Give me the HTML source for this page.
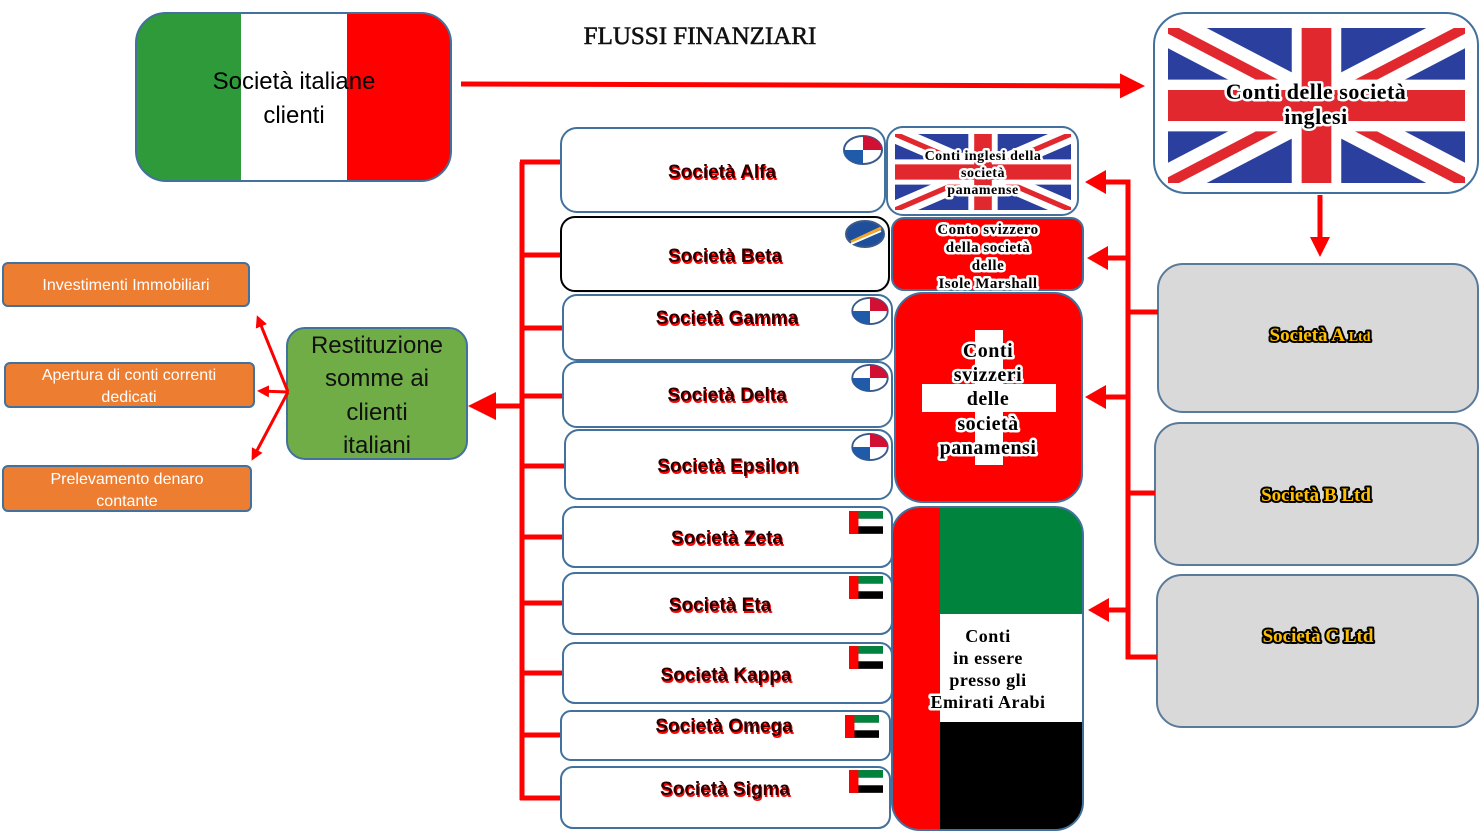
<!DOCTYPE html>
<html><head><meta charset="utf-8"><style>
html,body{margin:0;padding:0;background:#fff;}
svg{display:block;}
.co{font-family:"Liberation Sans",sans-serif;font-weight:bold;font-size:19px;text-anchor:middle;}
.blk{font-family:"Liberation Serif",serif;font-weight:bold;text-anchor:middle;fill:#000;stroke:#fff;stroke-width:5px;stroke-linejoin:round;paint-order:stroke;letter-spacing:0.5px;}
.yl{font-family:"Liberation Serif",serif;font-weight:bold;font-size:19px;text-anchor:middle;fill:#ffc000;stroke:#000;stroke-width:4px;stroke-linejoin:round;paint-order:stroke;}
.or{font-family:"Liberation Sans",sans-serif;font-size:16px;fill:#fff;text-anchor:middle;}
</style></head><body>
<svg width="1480" height="834" viewBox="0 0 1480 834" xmlns="http://www.w3.org/2000/svg">
<defs>
<marker id="ah" markerWidth="5" markerHeight="5" refX="4" refY="2.5" orient="auto" markerUnits="strokeWidth"><path d="M0,0 L5,2.5 L0,5 z" fill="#f00"/></marker>
<marker id="ah2" markerWidth="4" markerHeight="4" refX="3" refY="2" orient="auto" markerUnits="strokeWidth"><path d="M0,0 L4,2 L0,4 z" fill="#f00"/></marker>
<symbol id="uk" viewBox="0 0 60 30" preserveAspectRatio="none">
<rect width="60" height="30" fill="#2b3f9e"/>
<path d="M0,0 L60,30 M60,0 L0,30" stroke="#fff" stroke-width="7"/>
<path d="M0,0 L60,30 M60,0 L0,30" stroke="#e0282e" stroke-width="2"/>
<path d="M30,0 V30 M0,15 H60" stroke="#fff" stroke-width="10"/>
<path d="M30,0 V30 M0,15 H60" stroke="#e0282e" stroke-width="6"/>
</symbol>
<symbol id="pa" viewBox="0 0 40 30">
<ellipse cx="20" cy="15" rx="19" ry="14" fill="#fff" stroke="#3a5a8a" stroke-width="2"/>
<path d="M20,15 H39 A19,14 0 0 0 20,1 Z" fill="#d21034"/>
<path d="M20,15 H1 A19,14 0 0 0 20,29 Z" fill="#1f5ba8"/>
</symbol>
<symbol id="ae" viewBox="0 0 36 24">
<rect width="36" height="24" fill="#000"/><rect width="36" height="8" fill="#00843d"/><rect y="8" width="36" height="8" fill="#fff"/><rect width="10" height="24" fill="#f00"/>
</symbol>
<clipPath id="c1"><rect x="136" y="13" width="315" height="168" rx="30"/></clipPath>
<clipPath id="c2"><rect x="892" y="507" width="191" height="323" rx="28"/></clipPath>
</defs>

<text x="700" y="44" font-family="Liberation Serif,serif" font-size="25" text-anchor="middle" fill="#111" stroke="#111" stroke-width="0.6">FLUSSI FINANZIARI</text>

<g clip-path="url(#c1)">
<rect x="136" y="13" width="105" height="168" fill="#2e9a3a"/>
<rect x="241" y="13" width="106" height="168" fill="#fff"/>
<rect x="347" y="13" width="104" height="168" fill="#f00"/>
</g>
<rect x="136" y="13" width="315" height="168" rx="30" fill="none" stroke="#41719c" stroke-width="2"/>
<text x="294" y="89" font-family="Liberation Sans,sans-serif" font-size="24" text-anchor="middle">Società italiane</text>
<text x="294" y="123" font-family="Liberation Sans,sans-serif" font-size="24" text-anchor="middle">clienti</text>

<line x1="461" y1="84" x2="1140" y2="86" stroke="#f00" stroke-width="5" marker-end="url(#ah)"/>

<rect x="1154" y="13" width="324" height="180" rx="32" fill="#fff" stroke="#41719c" stroke-width="2"/>
<use href="#uk" x="1168" y="28" width="297" height="155"/>
<text class="blk" x="1316" y="99" font-size="22">Conti delle società</text>
<text class="blk" x="1316" y="124" font-size="22">inglesi</text>
<line x1="1320" y1="195" x2="1320" y2="252" stroke="#f00" stroke-width="5" marker-end="url(#ah2)"/>

<rect x="1158" y="264" width="320" height="148" rx="25" fill="#d9d9d9" stroke="#5a7a9a" stroke-width="2"/>
<rect x="1155" y="423" width="323" height="142" rx="25" fill="#d9d9d9" stroke="#5a7a9a" stroke-width="2"/>
<rect x="1157" y="575" width="321" height="152" rx="25" fill="#d9d9d9" stroke="#5a7a9a" stroke-width="2"/>
<text class="yl" x="1320" y="341">Società A <tspan font-size="14">Ltd</tspan></text>
<text class="yl" x="1316" y="501">Società B Ltd</text>
<text class="yl" x="1318" y="642">Società C Ltd</text>

<g stroke="#f00" stroke-width="5" fill="none">
<polyline points="1158,312 1128,312 1128,182 1100,182"/>
<polyline points="1155,493 1128,493 1128,312"/>
<polyline points="1157,657 1128,657 1128,493"/>
<line x1="1128" y1="258" x2="1100" y2="258"/>
<line x1="1128" y1="397" x2="1100" y2="397"/>
<line x1="1128" y1="610" x2="1100" y2="610"/>
</g>
<g fill="#f00">
<path d="M1085,182 L1106,170 L1106,194 Z"/>
<path d="M1087,258 L1108,246 L1108,270 Z"/>
<path d="M1085,397 L1106,385 L1106,409 Z"/>
<path d="M1088,610 L1109,598 L1109,622 Z"/>
</g>

<rect x="887" y="127" width="191" height="88" rx="16" fill="#fff" stroke="#41719c" stroke-width="2"/>
<use href="#uk" x="895" y="134" width="176" height="76"/>
<text class="blk" x="983" y="160" font-size="14">Conti inglesi della</text>
<text class="blk" x="983" y="177" font-size="14">società</text>
<text class="blk" x="983" y="194" font-size="14">panamense</text>

<rect x="892" y="218" width="191" height="72" rx="12" fill="#f00" stroke="#41719c" stroke-width="2"/>
<text class="blk" x="988" y="234" font-size="15">Conto svizzero</text>
<text class="blk" x="988" y="252" font-size="15">della società</text>
<text class="blk" x="988" y="270" font-size="15">delle</text>
<text class="blk" x="988" y="288" font-size="15">Isole Marshall</text>

<rect x="895" y="293" width="187" height="209" rx="28" fill="#f00" stroke="#41719c" stroke-width="2"/>
<rect x="975" y="330" width="28" height="135" fill="#fff"/>
<rect x="922" y="384" width="134" height="28" fill="#fff"/>
<text class="blk" x="988" y="357" font-size="20">Conti</text>
<text class="blk" x="988" y="381" font-size="20">svizzeri</text>
<text class="blk" x="988" y="405" font-size="20">delle</text>
<text class="blk" x="988" y="430" font-size="20">società</text>
<text class="blk" x="988" y="454" font-size="20">panamensi</text>

<g clip-path="url(#c2)">
<rect x="892" y="507" width="191" height="323" fill="#000"/>
<rect x="940" y="507" width="143" height="107" fill="#00843d"/>
<rect x="940" y="614" width="143" height="108" fill="#fff"/>
<rect x="892" y="507" width="48" height="323" fill="#f00"/>
</g>
<rect x="892" y="507" width="191" height="323" rx="28" fill="none" stroke="#41719c" stroke-width="2"/>
<text class="blk" x="988" y="642" font-size="18">Conti</text>
<text class="blk" x="988" y="664" font-size="18">in essere</text>
<text class="blk" x="988" y="686" font-size="18">presso gli</text>
<text class="blk" x="988" y="708" font-size="18">Emirati Arabi</text>

<g stroke="#f00" stroke-width="5" fill="none">
<line x1="522" y1="162" x2="522" y2="800"/>
<line x1="520" y1="162" x2="561" y2="162"/>
<line x1="522" y1="255" x2="561" y2="255"/>
<line x1="522" y1="328" x2="563" y2="328"/>
<line x1="522" y1="396" x2="563" y2="396"/>
<line x1="522" y1="466" x2="565" y2="466"/>
<line x1="522" y1="537" x2="563" y2="537"/>
<line x1="522" y1="603" x2="563" y2="603"/>
<line x1="522" y1="673" x2="563" y2="673"/>
<line x1="522" y1="735" x2="561" y2="735"/>
<line x1="520" y1="798" x2="561" y2="798"/>
<line x1="522" y1="406" x2="490" y2="406"/>
</g>
<path d="M468,406 L496,392 L496,420 Z" fill="#f00"/>

<g fill="#fff" stroke="#41719c" stroke-width="2">
<rect x="561" y="128" width="324" height="84" rx="16"/>
<rect x="563" y="295" width="329" height="65" rx="14"/>
<rect x="563" y="362" width="329" height="65" rx="14"/>
<rect x="565" y="430" width="327" height="69" rx="14"/>
<rect x="563" y="507" width="329" height="60" rx="12"/>
<rect x="563" y="573" width="329" height="61" rx="12"/>
<rect x="563" y="643" width="329" height="60" rx="12"/>
<rect x="561" y="711" width="329" height="49" rx="10"/>
<rect x="561" y="767" width="329" height="61" rx="12"/>
</g>
<rect x="564" y="221" width="326" height="72" rx="14" fill="#ddd" opacity="0.6"/>
<rect x="561" y="217" width="328" height="74" rx="14" fill="#fff" stroke="#000" stroke-width="2"/>

<g class="co">
<g fill="#f00" transform="translate(1,2)">
<text x="722" y="178">Società Alfa</text><text x="725" y="262">Società Beta</text>
<text x="727" y="324">Società Gamma</text><text x="727" y="401">Società Delta</text>
<text x="728" y="472">Società Epsilon</text><text x="727" y="544">Società Zeta</text>
<text x="720" y="611">Società Eta</text><text x="726" y="681">Società Kappa</text>
<text x="724" y="732">Società Omega</text><text x="725" y="795">Società Sigma</text>
</g>
<g fill="#2a0000">
<text x="722" y="178">Società Alfa</text><text x="725" y="262">Società Beta</text>
<text x="727" y="324">Società Gamma</text><text x="727" y="401">Società Delta</text>
<text x="728" y="472">Società Epsilon</text><text x="727" y="544">Società Zeta</text>
<text x="720" y="611">Società Eta</text><text x="726" y="681">Società Kappa</text>
<text x="724" y="732">Società Omega</text><text x="725" y="795">Società Sigma</text>
</g>
</g>

<use href="#pa" x="843" y="135" width="40" height="30"/>
<g transform="translate(845,220)">
<ellipse cx="20" cy="14" rx="19" ry="13" fill="#1f4f9a" stroke="#3a5a8a" stroke-width="2"/>
<path d="M6,22 L36,8" stroke="#f5a623" stroke-width="3"/><path d="M6,24 L36,11" stroke="#fff" stroke-width="2"/>
</g>
<use href="#pa" x="851" y="297" width="38" height="28"/>
<use href="#pa" x="851" y="364" width="38" height="28"/>
<use href="#pa" x="851" y="433" width="38" height="28"/>
<use href="#ae" x="849" y="511" width="34" height="23"/>
<use href="#ae" x="849" y="576" width="34" height="23"/>
<use href="#ae" x="849" y="646" width="34" height="23"/>
<use href="#ae" x="845" y="715" width="34" height="23"/>
<use href="#ae" x="849" y="770" width="34" height="23"/>

<rect x="287" y="328" width="180" height="131" rx="18" fill="#70ad47" stroke="#41719c" stroke-width="2"/>
<g font-family="Liberation Sans,sans-serif" font-size="24" text-anchor="middle" fill="#111">
<text x="377" y="353">Restituzione</text><text x="377" y="386">somme ai</text>
<text x="377" y="420">clienti</text><text x="377" y="453">italiani</text>
</g>

<g fill="#ed7d31" stroke="#41719c" stroke-width="2">
<rect x="3" y="263" width="246" height="43" rx="5"/>
<rect x="5" y="363" width="249" height="44" rx="5"/>
<rect x="3" y="466" width="248" height="45" rx="5"/>
</g>
<text class="or" x="126" y="290">Investimenti Immobiliari</text>
<text class="or" x="129" y="380">Apertura di conti correnti</text>
<text class="or" x="129" y="402">dedicati</text>
<text class="or" x="127" y="484">Prelevamento denaro</text>
<text class="or" x="127" y="506">contante</text>

<g stroke="#f00" stroke-width="3" fill="none">
<line x1="288" y1="392" x2="258" y2="318" marker-end="url(#ah2)"/>
<line x1="288" y1="392" x2="260" y2="391" marker-end="url(#ah2)"/>
<line x1="288" y1="392" x2="253" y2="458" marker-end="url(#ah2)"/>
</g>
</svg>
</body></html>
